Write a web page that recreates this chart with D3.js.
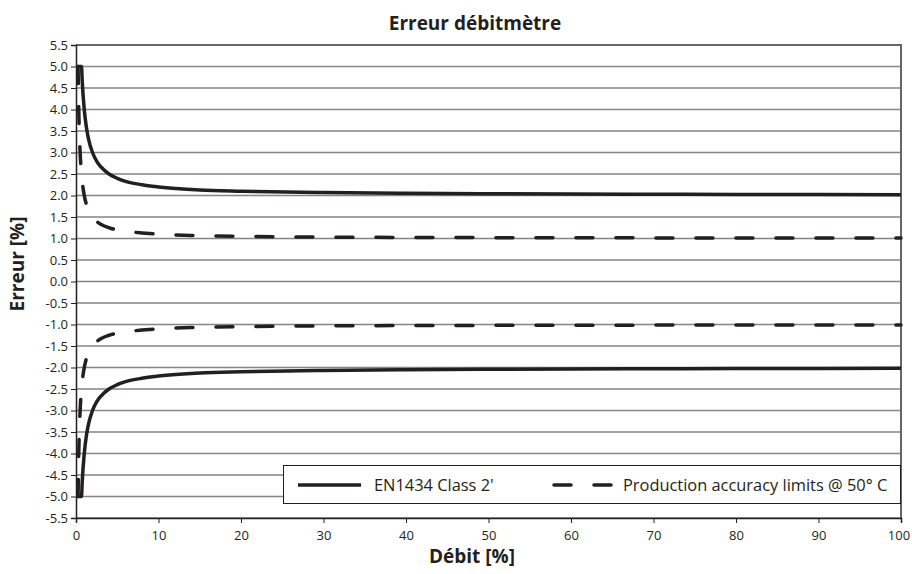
<!DOCTYPE html>
<html>
<head>
<meta charset="utf-8">
<script src="https://cdn.jsdelivr.net/npm/d3@7"></script>
<style>
  body { margin: 0; background: #fff; }
  text { font-family: "Open Sans", "Noto Sans", sans-serif; fill: #231f20; }
</style>
</head>
<body>
<script>
// values
var classFlow = [0, 0.67, 0.75, 1, 1.25, 1.5, 2, 2.5, 3, 4, 5, 6, 8, 10, 15, 20, 30, 40, 50, 60, 70, 80, 90, 100];
var classErr  = [5, 5, 4.67, 4.0, 3.6, 3.33, 3.0, 2.8, 2.67, 2.5, 2.4, 2.33, 2.25, 2.2, 2.13, 2.1, 2.067, 2.05, 2.04, 2.033, 2.029, 2.025, 2.022, 2.02];
var prodFlow  = [0.25, 0.3, 0.4, 0.5, 0.6, 0.8, 1, 1.25, 1.5, 2, 2.5, 3, 4, 5, 6, 8, 10, 15, 20, 30, 40, 50, 60, 70, 80, 90, 100];
var prodErr   = [5, 4.33, 3.5, 3.0, 2.67, 2.25, 2.0, 1.8, 1.67, 1.5, 1.4, 1.33, 1.25, 1.2, 1.17, 1.13, 1.1, 1.067, 1.05, 1.033, 1.025, 1.02, 1.017, 1.014, 1.012, 1.011, 1.01];
var xTicks = [0, 10, 20, 30, 40, 50, 60, 70, 80, 90, 100];
var yTicks = d3.range(-11, 12).map(function(d) { return d / 2; });
var legendNames = ["EN1434 Class 2'", "Production accuracy limits @ 50° C"];

var svg = d3.select("body").append("svg").attr("width", 912).attr("height", 574);

var x = d3.scaleLinear().domain([0, 100]).range([76, 901]);
var y = d3.scaleLinear().domain([-5.5, 5.5]).range([518, 45]);

// grid
svg.append("g").selectAll("line").data(yTicks).enter().append("line")
  .attr("x1", x(0)).attr("x2", x(100))
  .attr("y1", function(d) { return y(d); }).attr("y2", function(d) { return y(d); })
  .attr("stroke", "#858585").attr("stroke-width", 1.3);

// frame top/right
svg.append("path")
  .attr("d", "M" + x(0) + "," + y(5.5) + "H" + x(100) + "V" + y(-5.5))
  .attr("fill", "none").attr("stroke", "#666").attr("stroke-width", 2);

var yAxis = svg.append("g").attr("transform", "translate(" + x(0) + ",0)")
  .call(d3.axisLeft(y).tickValues(yTicks).tickFormat(d3.format(".1f")).tickSize(5).tickPadding(3));
var xAxis = svg.append("g").attr("transform", "translate(0," + y(-5.5) + ")")
  .call(d3.axisBottom(x).tickValues(xTicks).tickSize(5));

[yAxis, xAxis].forEach(function(a) {
  a.attr("font-size", 13).attr("font-family", "Open Sans");
  a.select(".domain").attr("stroke", "#231f20").attr("stroke-width", 1.5);
  a.selectAll(".tick line").attr("stroke", "#231f20");
  a.selectAll("text").attr("fill", "#231f20");
});
yAxis.selectAll(".tick text").text(function(d) { return d3.format(".1f")(d).replace("−", "-"); });
xAxis.selectAll(".tick text").attr("dy", "1.05em")
  .attr("dx", function(d) { return d === 100 ? -2.5 : 0; });

// curves
var line = d3.line()
  .x(function(d) { return x(d[0]); })
  .y(function(d) { return y(d[1]); })
  .curve(d3.curveMonotoneX);

function pts(xs, ys, sign) {
  return xs.map(function(v, i) { return [v, sign * ys[i]]; });
}

var curves = [
  { d: pts(classFlow, classErr, 1), dash: null },
  { d: pts(classFlow, classErr, -1), dash: null },
  { d: pts(prodFlow, prodErr, 1), dash: "17,23" },
  { d: pts(prodFlow, prodErr, -1), dash: "17,23" }
];

svg.append("g").selectAll("path").data(curves).enter().append("path")
  .attr("d", function(c) { return line(c.d); })
  .attr("fill", "none").attr("stroke", "#231f20").attr("stroke-width", 3.5)
  .attr("stroke-linecap", function(c) { return c.dash ? "round" : "butt"; })
  .attr("stroke-dasharray", function(c) { return c.dash; });

// legend
var lg = svg.append("g");
lg.append("rect").attr("x", 283.5).attr("y", 465.5).attr("width", 617).attr("height", 38)
  .attr("fill", "#fff").attr("stroke", "#231f20").attr("stroke-width", 1);
lg.append("line").attr("x1", 298).attr("x2", 361).attr("y1", 485).attr("y2", 485)
  .attr("stroke", "#231f20").attr("stroke-width", 3.5);
lg.append("text").attr("x", 374).attr("y", 491).attr("font-size", 16.4).text(legendNames[0]);
lg.append("line").attr("x1", 554).attr("x2", 612).attr("y1", 485).attr("y2", 485)
  .attr("stroke", "#231f20").attr("stroke-width", 3.5)
  .attr("stroke-dasharray", "17,23").attr("stroke-linecap", "round");
lg.append("text").attr("x", 623).attr("y", 491).attr("font-size", 16.4).text(legendNames[1]);

// titles
svg.append("text").attr("x", 475).attr("y", 30).attr("text-anchor", "middle")
  .attr("font-size", 19).attr("font-weight", "bold").text("Erreur débitmètre");
svg.append("text").attr("x", 472).attr("y", 563).attr("text-anchor", "middle")
  .attr("font-size", 19).attr("font-weight", "bold").text("Débit [%]");
svg.append("text").attr("transform", "translate(24,264) rotate(-90)").attr("text-anchor", "middle")
  .attr("font-size", 19).attr("font-weight", "bold").text("Erreur [%]");
</script>
</body>
</html>
